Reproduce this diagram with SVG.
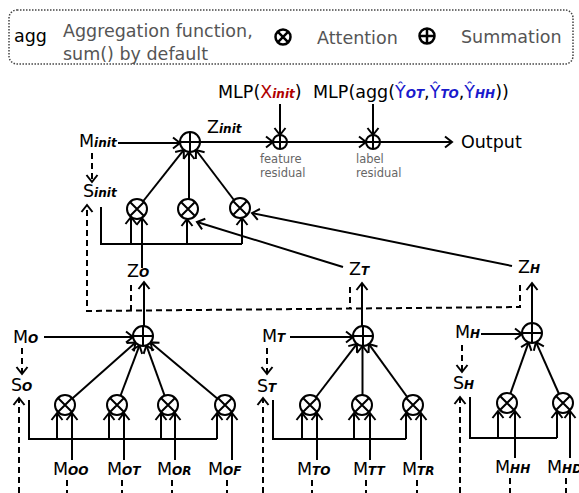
<svg xmlns="http://www.w3.org/2000/svg" width="579" height="493" viewBox="0 0 579 493">
<defs>
<marker id="ah" markerUnits="userSpaceOnUse" markerWidth="14" markerHeight="14" refX="11" refY="7" orient="auto">
<path d="M4,1.5 L11,7 L4,12.5" fill="none" stroke="#000" stroke-width="2"/>
</marker>
</defs>
<style>
text{font-family:"DejaVu Sans","Verdana",sans-serif;font-size:17.5px;fill:#000}
.sub{font-size:12px;font-weight:bold;font-style:italic}
.gray{fill:#555}
.small{font-size:11.5px;fill:#666}
.red{fill:#b00000}
.blue{fill:#1a1acc}
.ln{fill:none;stroke:#000;stroke-width:2}
.ar{fill:none;stroke:#000;stroke-width:2;marker-end:url(#ah)}
.da{fill:none;stroke:#000;stroke-width:2;stroke-dasharray:6,4;marker-end:url(#ah)}
.dl{fill:none;stroke:#000;stroke-width:2;stroke-dasharray:6,4}
.node circle{fill:#fff;stroke:#000;stroke-width:2}
.node path{fill:none;stroke:#000;stroke-width:2}
.sym circle{fill:#fff;stroke:#000;stroke-width:2.5}
.sym path{fill:none;stroke:#000;stroke-width:2.5}
</style>

<g id="legend">
<rect x="9" y="10" width="564" height="54" rx="8" fill="none" stroke="#444" stroke-width="1.5" stroke-dasharray="1.5,1.5"/>
<text x="14" y="42">agg</text>
<text x="63" y="37" class="gray">Aggregation function,</text>
<text x="63" y="60" class="gray">sum() by default</text>
<g class="sym"><circle cx="283" cy="37" r="7.5"/><path d="M277.7,31.7 L288.3,42.3 M288.3,31.7 L277.7,42.3"/></g>
<text x="317" y="44" class="gray">Attention</text>
<g class="sym"><circle cx="427" cy="36" r="7.5"/><path d="M419.5,36 H434.5 M427,28.5 V43.5"/></g>
<text x="461" y="43" class="gray">Summation</text>
</g>

<g id="connectors">
<!-- top -->
<path class="ar" d="M118,143 H180"/>
<path class="ar" d="M137,209 L183.8,149.9"/>
<path class="ar" d="M189,209 V152"/>
<path class="ar" d="M240,208 L196,150"/>
<path class="ar" d="M200,142 H273"/>
<path class="ar" d="M280,104 V135"/>
<path class="ar" d="M287,142 H366"/>
<path class="ar" d="M373,104 V135"/>
<path class="ar" d="M380,142 H452"/>
<path class="ln" d="M101,207 V244 H242"/>
<path class="ar" d="M131,244 V217"/>
<path class="ar" d="M187,244 V219"/>
<path class="ar" d="M242,244 V218"/>
<path class="ar" d="M142,268 V218"/>
<path class="ar" d="M343,267 L197,222"/>
<path class="ar" d="M512,266 L252,213"/>
<path class="da" d="M92,153 V182"/>
<path class="da" d="M520,285 V307 L87,311 V205"/>
<path class="dl" d="M350,287 V308.6"/>
<path class="dl" d="M131,285 V310.6"/>
<path class="ar" d="M144,326 V282"/>
<path class="ar" d="M362,326 V283"/>
<path class="ar" d="M532,323 V283"/>
<!-- O -->
<path class="ar" d="M44,337 H133"/>
<path class="da" d="M22,348 V374"/>
<path class="da" d="M19,493 V398"/>
<path class="ln" d="M29,400 V439 H217"/>
<path class="ar" d="M57,439 V413"/>
<path class="ar" d="M109,439 V413"/>
<path class="ar" d="M161,439 V413"/>
<path class="ar" d="M217,439 V413"/>
<path class="ar" d="M72,460 V413"/>
<path class="ar" d="M124,460 V413"/>
<path class="ar" d="M175,460 V413"/>
<path class="ar" d="M232,460 V413"/>
<path class="dl" d="M67,480 V493 M122,480 V493 M172,480 V493 M227,480 V493"/>
<path class="ar" d="M65,405 L135.5,342.6"/>
<path class="ar" d="M117,405 L139.5,345.4"/>
<path class="ar" d="M168,405 L146.4,345.4"/>
<path class="ar" d="M225,405 L150.6,342.4"/>
<!-- T -->
<path class="ar" d="M290,337 H353"/>
<path class="da" d="M267,348 V374"/>
<path class="da" d="M263,493 V398"/>
<path class="ln" d="M273,400 V439 H406"/>
<path class="ar" d="M302,439 V413"/>
<path class="ar" d="M354,439 V413"/>
<path class="ar" d="M406,439 V413"/>
<path class="ar" d="M317,460 V413"/>
<path class="ar" d="M370,460 V413"/>
<path class="ar" d="M421,460 V413"/>
<path class="dl" d="M312,480 V493 M366,480 V493 M417,480 V493"/>
<path class="ar" d="M310,405 L356.9,343.9"/>
<path class="ar" d="M362.5,405 V346"/>
<path class="ar" d="M413,405 L368.9,344.1"/>
<!-- H -->
<path class="ar" d="M481,334 H522"/>
<path class="da" d="M462,345 V372"/>
<path class="da" d="M460,493 V397"/>
<path class="ln" d="M470,397 V438 H557"/>
<path class="ar" d="M498,438 V411"/>
<path class="ar" d="M557,438 V411"/>
<path class="ar" d="M515,458 V411"/>
<path class="ar" d="M570,458 V411"/>
<path class="dl" d="M510,478 V493 M566,478 V493"/>
<path class="ar" d="M507,403 L528.6,342.4"/>
<path class="ar" d="M563,403 L536,342.1"/>
</g>

<!-- summation nodes -->
<g id="sum_init" class="node"><circle cx="190" cy="142" r="10"/><path d="M180,142 H200 M190,132 V152"/></g>
<g id="feature_residual" class="node"><circle cx="280" cy="142" r="7"/><path d="M273,142 H287 M280,135 V149"/></g>
<g id="label_residual" class="node"><circle cx="373" cy="142" r="7"/><path d="M366,142 H380 M373,135 V149"/></g>
<g id="sum_O" class="node"><circle cx="143" cy="336" r="10"/><path d="M133,336 H153 M143,326 V346"/></g>
<g id="sum_T" class="node"><circle cx="363" cy="336" r="10"/><path d="M353,336 H373 M363,326 V346"/></g>
<g id="sum_H" class="node"><circle cx="532" cy="333" r="10"/><path d="M522,333 H542 M532,323 V343"/></g>

<!-- attention nodes -->
<g id="att_init_O" class="node"><circle cx="137" cy="209" r="10"/><path d="M130,202 L144,216 M144,202 L130,216"/></g>
<g id="att_init_T" class="node"><circle cx="188" cy="209" r="10"/><path d="M181,202 L195,216 M195,202 L181,216"/></g>
<g id="att_init_H" class="node"><circle cx="240" cy="208" r="10"/><path d="M233,201 L247,215 M247,201 L233,215"/></g>
<g id="att_OO" class="node"><circle cx="65" cy="405" r="10"/><path d="M58,398 L72,412 M72,398 L58,412"/></g>
<g id="att_OT" class="node"><circle cx="117" cy="405" r="10"/><path d="M110,398 L124,412 M124,398 L110,412"/></g>
<g id="att_OR" class="node"><circle cx="168" cy="405" r="10"/><path d="M161,398 L175,412 M175,398 L161,412"/></g>
<g id="att_OF" class="node"><circle cx="225" cy="405" r="10"/><path d="M218,398 L232,412 M232,398 L218,412"/></g>
<g id="att_TO" class="node"><circle cx="310" cy="405" r="10"/><path d="M303,398 L317,412 M317,398 L303,412"/></g>
<g id="att_TT" class="node"><circle cx="362" cy="405" r="10"/><path d="M355,398 L369,412 M369,398 L355,412"/></g>
<g id="att_TR" class="node"><circle cx="413" cy="405" r="10"/><path d="M406,398 L420,412 M420,398 L406,412"/></g>
<g id="att_HH" class="node"><circle cx="507" cy="403" r="10"/><path d="M500,396 L514,410 M514,396 L500,410"/></g>
<g id="att_HD" class="node"><circle cx="563" cy="403" r="10"/><path d="M556,396 L570,410 M570,396 L556,410"/></g>

<!-- labels -->
<g id="mlp_feature"><text x="218" y="98">MLP(<tspan class="red">X</tspan><tspan class="sub red">init</tspan>)</text></g>
<g id="mlp_label"><text x="313" y="98">MLP(agg(<tspan class="blue">Ŷ</tspan><tspan class="sub blue">OT</tspan>,<tspan class="blue">Ŷ</tspan><tspan class="sub blue">TO</tspan>,<tspan class="blue">Ŷ</tspan><tspan class="sub blue">HH</tspan>))</text></g>
<g id="output"><text x="461" y="148">Output</text></g>
<g id="feature_residual_label"><text x="260" y="163" class="small">feature</text><text x="260" y="177" class="small">residual</text></g>
<g id="label_residual_label"><text x="356" y="163" class="small">label</text><text x="356" y="177" class="small">residual</text></g>
<g id="M_init"><text x="79" y="147">M<tspan class="sub">init</tspan></text></g>
<g id="S_init"><text x="83" y="197">S<tspan class="sub">init</tspan></text></g>
<g id="Z_init"><text x="207" y="133">Z<tspan class="sub">init</tspan></text></g>
<g id="Z_O"><text x="127" y="277">Z<tspan class="sub">O</tspan></text></g>
<g id="Z_T"><text x="349" y="275">Z<tspan class="sub">T</tspan></text></g>
<g id="Z_H"><text x="518" y="273">Z<tspan class="sub">H</tspan></text></g>
<g id="M_O"><text x="13" y="343">M<tspan class="sub">O</tspan></text></g>
<g id="S_O"><text x="11" y="391">S<tspan class="sub">O</tspan></text></g>
<g id="M_T"><text x="262" y="342">M<tspan class="sub">T</tspan></text></g>
<g id="S_T"><text x="257" y="392">S<tspan class="sub">T</tspan></text></g>
<g id="M_H"><text x="455" y="338">M<tspan class="sub">H</tspan></text></g>
<g id="S_H"><text x="453" y="389">S<tspan class="sub">H</tspan></text></g>
<g id="M_OO"><text x="53" y="475">M<tspan class="sub">OO</tspan></text></g>
<g id="M_OT"><text x="107" y="475">M<tspan class="sub">OT</tspan></text></g>
<g id="M_OR"><text x="157" y="475">M<tspan class="sub">OR</tspan></text></g>
<g id="M_OF"><text x="208" y="475">M<tspan class="sub">OF</tspan></text></g>
<g id="M_TO"><text x="297" y="475">M<tspan class="sub">TO</tspan></text></g>
<g id="M_TT"><text x="353" y="475">M<tspan class="sub">TT</tspan></text></g>
<g id="M_TR"><text x="402" y="475">M<tspan class="sub">TR</tspan></text></g>
<g id="M_HH"><text x="495" y="473">M<tspan class="sub">HH</tspan></text></g>
<g id="M_HD"><text x="547" y="473">M<tspan class="sub">HD</tspan></text></g>
</svg>
